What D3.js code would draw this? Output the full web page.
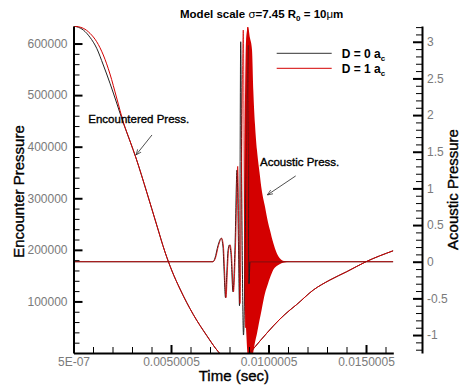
<!DOCTYPE html>
<html>
<head>
<meta charset="utf-8">
<script src="https://cdn.jsdelivr.net/npm/d3@7"></script>
<style>
  body { margin: 0; background: #fff; }
  text { font-family: "Liberation Sans", Arial, Helvetica, sans-serif; }
</style>
</head>
<body>
<svg id="chart" width="459" height="388"></svg>
<script>
// ---- data ----
// encountered pressure (left axis), shared time base
const encTime = [0, 0.000503, 0.000846, 0.00119, 0.001528, 0.001872, 0.002215, 0.002554,
  0.002897, 0.003205, 0.003754, 0.004267, 0.004692, 0.005051, 0.005462, 0.005805, 0.006143,
  0.006831, 0.007425, 0.008231,
  0.009051, 0.009564, 0.010246, 0.01059, 0.011102, 0.011446, 0.012297, 0.013149, 0.01401,
  0.015, 0.0164];
const encD1 = [634000, 629500, 619800, 603500, 577800, 540900, 494400, 447900,
  411000, 378100, 312100, 248200, 195800, 159000, 124100, 97900, 74600,
  33900, 2500, -22000,
  970, 23300, 52400, 65900, 83400, 94000, 122100, 141500, 157600,
  177000, 198300];
const encD0 = [634000, 626200, 612100, 590800, 558400, 522900, 484700, 446000,
  411000, 378100, 312100, 248200, 195800, 159000, 124100, 97900, 74600,
  33900, 2500, -22000,
  970, 23300, 52400, 65900, 83400, 94000, 122100, 141500, 157600,
  177000, 198300];

// acoustic pressure (right axis), D = 1
const acTimeD1 = [0, 0.007154, 0.007282, 0.007436, 0.0076, 0.007692, 0.007744, 0.007821,
  0.007897, 0.007949, 0.008026, 0.008103, 0.008205, 0.008308, 0.008421, 0.008487, 0.008538,
  0.008626, 0.008708, 0.008769, 0.008821, 0.008933, 0.009051, 0.011103, 0.0164];
const acD1 = [0, 0, 0.05, 0.22, 0.32, 0.2, -0.1, -0.49,
  -0.1, 0.15, 0.23, 0.1, -0.41, 0.2, 1.3, 0.2, -0.57,
  1.5, 3.16, 0.5, -0.9, 3.2, 0, 0, 0];

// acoustic pressure (right axis), D = 0
const acTimeD0 = [0, 0.007154, 0.007256, 0.00741, 0.007579, 0.007667, 0.007718, 0.007795,
  0.007872, 0.007923, 0.008, 0.008077, 0.008179, 0.008282, 0.008385, 0.008462, 0.008513,
  0.008574, 0.008641, 0.008718, 0.008846, 0.008964, 0.009, 0.009051, 0.011103, 0.0164];
const acD0 = [0, 0, 0.05, 0.22, 0.32, 0.2, -0.1, -0.49,
  -0.1, 0.15, 0.23, 0.1, -0.41, 0.2, 1.25, 0.2, -0.6,
  3.0, 0.5, -1.0, 1.0, 2.95, -0.3, 0, 0, 0];

// envelope of the dense ringing (D = 1)
const envTime = [0.008744, 0.008846, 0.008949, 0.009051, 0.009154, 0.009221, 0.009308,
  0.00941, 0.009539, 0.009651, 0.009821, 0.009974, 0.010077, 0.010246, 0.01042, 0.01059,
  0.010795, 0.011103];
const envUpper = [0.8, 3.0, 3.2, 3.05, 2.89, 2.34, 1.87,
  1.52, 1.22, 0.98, 0.75, 0.54, 0.43, 0.255, 0.12, 0.044,
  0.01, 0];
const envLower = [-0.4, -0.9, -1.35, -1.45, -1.35, -1.23, -1.1,
  -0.98, -0.8, -0.65, -0.43, -0.3, -0.22, -0.11, -0.06, -0.03,
  -0.01, 0];

const xTicks = [5e-7, 0.0050005, 0.0100005, 0.0150005];
const xTickLabels = ["5E-07", "0.0050005", "0.0100005", "0.0150005"];
const leftTicks = [100000, 200000, 300000, 400000, 500000, 600000];
const rightTicks = [-1, -0.5, 0, 0.5, 1, 1.5, 2, 2.5, 3];
const legendNames = ["D = 0 a", "D = 1 a"];
const legendColors = ["#333", "#d40000"];

// annotations in data coordinates: [label, labelT, labelV, tailT, tailV, tipT, tipV]
const encNote = ["Encountered Press.", 0.000759, 445000, 0.004025, 422700, 0.003205, 383900];
const acNote = ["Acoustic Press.", 0.009564, 1.30, 0.011395, 1.17, 0.009938, 0.91];

// ---- layout ----
const L = 73.5, R = 393.3, T = 26, B = 353, RA = 422;
const RED = "#d40000";

const svg = d3.select("#chart");

const x = d3.scaleLinear().domain([5e-7, 0.0164]).range([L, R]);
const yL = d3.scaleLinear().domain([0, 634000]).range([B, T]);
const yR = d3.scaleLinear().domain([-1.245, 3.215]).range([B, T]);

svg.append("defs").append("clipPath").attr("id", "clip")
  .append("rect").attr("x", L).attr("y", T).attr("width", R - L).attr("height", B - T);

svg.select("defs").append("marker")
  .attr("id", "arrow").attr("viewBox", "0 0 10 10").attr("refX", 10).attr("refY", 5)
  .attr("markerWidth", 7).attr("markerHeight", 7).attr("orient", "auto")
  .append("path").attr("d", "M0,1 L10,5 L0,9").attr("fill", "none")
  .attr("stroke", "#222").attr("stroke-width", 1.2);

const plot = svg.append("g").attr("clip-path", "url(#clip)");

// envelope fill
const env = envTime.map((t, i) => ({ t: t, hi: envUpper[i], lo: envLower[i] }));
plot.append("path").datum(env)
  .attr("fill", RED)
  .attr("d", d3.area().x(d => x(d.t)).y0(d => yR(d.lo)).y1(d => yR(d.hi)).curve(d3.curveMonotoneX));

// encountered pressure
const encLine = d3.line().x(d => x(d[0])).y(d => yL(d[1])).curve(d3.curveMonotoneX);
plot.append("path").datum(encTime.map((t, i) => [t, encD0[i]]))
  .attr("fill", "none").attr("stroke", "#222").attr("stroke-width", 1).attr("d", encLine);
plot.append("path").datum(encTime.map((t, i) => [t, encD1[i]]))
  .attr("fill", "none").attr("stroke", RED).attr("stroke-width", 1).attr("d", encLine);

// acoustic pressure
const acLine = d3.line().x(d => x(d[0])).y(d => yR(d[1])).curve(d3.curveMonotoneX);
plot.append("path").datum(acTimeD0.map((t, i) => [t, acD0[i]]))
  .attr("fill", "none").attr("stroke", "#222").attr("stroke-width", 1).attr("d", acLine);
plot.append("path").datum(acTimeD1.map((t, i) => [t, acD1[i]]))
  .attr("fill", "none").attr("stroke", RED).attr("stroke-width", 1)
  .attr("stroke-opacity", 0.8).attr("d", acLine);

// ---- axes ----
function styleAxis(g, labelColor) {
  g.select(".domain").attr("stroke", "#000").attr("stroke-width", 2);
  g.selectAll(".tick line").attr("stroke", "#000").attr("stroke-width", 2);
  g.selectAll(".tick text").attr("fill", labelColor).attr("font-size", 12)
    .attr("font-family", "'Liberation Sans', Arial, sans-serif");
}

function minors(lo, hi, step, skip) {
  const out = [];
  for (let v = lo; v <= hi + 1e-12; v += step) {
    const r = Math.round(v / step) * step;
    if (!skip.some(s => Math.abs(s - r) < step / 10)) out.push(r);
  }
  return out;
}

// left axis
const gl = svg.append("g").attr("transform", `translate(${L},0)`)
  .call(d3.axisLeft(yL).tickValues(leftTicks).tickSizeInner(-9).tickSizeOuter(0)
    .tickPadding(6).tickFormat(d3.format("d")));
styleAxis(gl, "#7a7a7a");
svg.append("g").attr("transform", `translate(${L},0)`)
  .call(d3.axisLeft(yL).tickValues(minors(20000, 580000, 20000, leftTicks)).tickSize(-6).tickFormat(""))
  .call(g => g.select(".domain").remove())
  .call(g => g.selectAll("line").attr("stroke", "#000").attr("stroke-width", 1));

// right axis
const gr = svg.append("g").attr("transform", `translate(${RA},0)`)
  .call(d3.axisRight(yR).tickValues(rightTicks).tickSizeInner(-9).tickSizeOuter(0)
    .tickPadding(5).tickFormat(d => String(d)));
styleAxis(gr, "#7a7a7a");
svg.append("g").attr("transform", `translate(${RA},0)`)
  .call(d3.axisRight(yR).tickValues(minors(-1.2, 3.2, 0.1, rightTicks)).tickSize(-6).tickFormat(""))
  .call(g => g.select(".domain").remove())
  .call(g => g.selectAll("line").attr("stroke", "#000").attr("stroke-width", 1));

// bottom axis
const gb = svg.append("g").attr("transform", `translate(0,${B})`)
  .call(d3.axisBottom(x).tickValues(xTicks).tickSizeInner(-8).tickSizeOuter(0)
    .tickPadding(4.5).tickFormat((d, i) => xTickLabels[i]));
styleAxis(gb, "#7a7a7a");
const xMinor = minors(0.001, 0.016, 0.001, []).map(v => v + 5e-7)
  .filter(v => !xTicks.some(s => Math.abs(s - v) < 1e-6));
svg.append("g").attr("transform", `translate(0,${B})`)
  .call(d3.axisBottom(x).tickValues(xMinor).tickSize(-6).tickFormat(""))
  .call(g => g.select(".domain").remove())
  .call(g => g.selectAll("line").attr("stroke", "#000").attr("stroke-width", 1));

// axis titles
const heavy = sel => sel.attr("stroke", "#000").attr("stroke-width", 0.35);
svg.append("text").attr("x", (L + R) / 2 + 0.5).attr("y", 381)
  .attr("text-anchor", "middle").attr("font-size", 15).call(heavy).text("Time (sec)");
svg.append("text").attr("transform", `translate(24,${(T + B) / 2 + 2}) rotate(-90)`)
  .attr("text-anchor", "middle").attr("font-size", 15).call(heavy).text("Encounter Pressure");
svg.append("text").attr("transform", `translate(457.5,${(T + B) / 2}) rotate(-90)`)
  .attr("text-anchor", "middle").attr("font-size", 15).call(heavy).text("Acoustic Pressure");

// title
const title = svg.append("text").attr("x", 180).attr("y", 18)
  .attr("font-size", 11.5).attr("font-weight", "bold");
title.append("tspan").text("Model scale ");
title.append("tspan").attr("font-weight", "normal").text("σ");
title.append("tspan").text("=7.45 R");
title.append("tspan").attr("font-size", 8).attr("dy", 3).text("0");
title.append("tspan").attr("dy", -3).text(" = 10");
title.append("tspan").attr("font-weight", "normal").text("μ");
title.append("tspan").text("m");

// legend
const lg = svg.append("g");
legendNames.forEach((name, i) => {
  const yy = 53.3 + i * 15;
  lg.append("line").attr("x1", 276.7).attr("x2", 331.7).attr("y1", yy).attr("y2", yy)
    .attr("stroke", legendColors[i]).attr("stroke-width", 1);
  const t = lg.append("text").attr("x", 341.7).attr("y", yy + 4.5).attr("font-size", 12)
    .attr("font-weight", "bold");
  t.append("tspan").text(name);
  t.append("tspan").attr("font-size", 8).attr("dy", 3).text("c");
});

// annotations
function note(a, yScale) {
  svg.append("text").attr("x", x(a[1])).attr("y", yScale(a[2]))
    .attr("font-size", 11.5).call(heavy).text(a[0]);
  svg.append("line").attr("x1", x(a[3])).attr("y1", yScale(a[4]))
    .attr("x2", x(a[5])).attr("y2", yScale(a[6]))
    .attr("stroke", "#222").attr("stroke-width", 0.8).attr("marker-end", "url(#arrow)");
}
note(encNote, yL);
note(acNote, yR);
</script>
</body>
</html>
